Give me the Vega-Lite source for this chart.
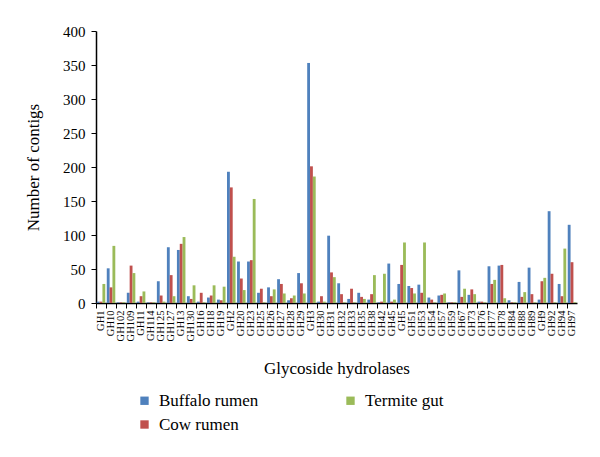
{
  "$schema": "https://vega.github.io/schema/vega-lite/v6.json",
  "autosize": {"type": "none"},
  "padding": {"left": 96, "top": 31, "right": 23, "bottom": 154},
  "width": 481,
  "height": 272,
  "background": "white",
  "config": {
    "view": {"stroke": null},
    "font": "Liberation Serif",
    "axis": {"labelFont": "Liberation Serif", "titleFont": "Liberation Serif", "labelColor": "black", "titleColor": "black", "domainColor": "black", "tickColor": "black", "titleFontWeight": "normal"},
    "legend": {"labelFont": "Liberation Serif", "labelColor": "black"}
  },
  "data": {
    "values": [
      {"g":"GH1","s":"Buffalo rumen","v":2},{"g":"GH1","s":"Cow rumen","v":2},{"g":"GH1","s":"Termite gut","v":28},
      {"g":"GH10","s":"Buffalo rumen","v":51},{"g":"GH10","s":"Cow rumen","v":23},{"g":"GH10","s":"Termite gut","v":84},
      {"g":"GH102","s":"Buffalo rumen","v":1},{"g":"GH102","s":"Cow rumen","v":1},{"g":"GH102","s":"Termite gut","v":1},
      {"g":"GH109","s":"Buffalo rumen","v":15},{"g":"GH109","s":"Cow rumen","v":55},{"g":"GH109","s":"Termite gut","v":44},
      {"g":"GH11","s":"Buffalo rumen","v":2},{"g":"GH11","s":"Cow rumen","v":10},{"g":"GH11","s":"Termite gut","v":17},
      {"g":"GH114","s":"Buffalo rumen","v":1},{"g":"GH114","s":"Cow rumen","v":1},{"g":"GH114","s":"Termite gut","v":1},
      {"g":"GH125","s":"Buffalo rumen","v":32},{"g":"GH125","s":"Cow rumen","v":11},{"g":"GH125","s":"Termite gut","v":2},
      {"g":"GH127","s":"Buffalo rumen","v":82},{"g":"GH127","s":"Cow rumen","v":41},{"g":"GH127","s":"Termite gut","v":10},
      {"g":"GH13","s":"Buffalo rumen","v":78},{"g":"GH13","s":"Cow rumen","v":87},{"g":"GH13","s":"Termite gut","v":97},
      {"g":"GH130","s":"Buffalo rumen","v":10},{"g":"GH130","s":"Cow rumen","v":6},{"g":"GH130","s":"Termite gut","v":26},
      {"g":"GH16","s":"Buffalo rumen","v":2},{"g":"GH16","s":"Cow rumen","v":15},{"g":"GH16","s":"Termite gut","v":1},
      {"g":"GH18","s":"Buffalo rumen","v":8},{"g":"GH18","s":"Cow rumen","v":11},{"g":"GH18","s":"Termite gut","v":26},
      {"g":"GH19","s":"Buffalo rumen","v":5},{"g":"GH19","s":"Cow rumen","v":4},{"g":"GH19","s":"Termite gut","v":24},
      {"g":"GH2","s":"Buffalo rumen","v":193},{"g":"GH2","s":"Cow rumen","v":170},{"g":"GH2","s":"Termite gut","v":68},
      {"g":"GH20","s":"Buffalo rumen","v":61},{"g":"GH20","s":"Cow rumen","v":36},{"g":"GH20","s":"Termite gut","v":19},
      {"g":"GH23","s":"Buffalo rumen","v":61},{"g":"GH23","s":"Cow rumen","v":63},{"g":"GH23","s":"Termite gut","v":153},
      {"g":"GH25","s":"Buffalo rumen","v":15},{"g":"GH25","s":"Cow rumen","v":21},{"g":"GH25","s":"Termite gut","v":1},
      {"g":"GH26","s":"Buffalo rumen","v":23},{"g":"GH26","s":"Cow rumen","v":10},{"g":"GH26","s":"Termite gut","v":20},
      {"g":"GH27","s":"Buffalo rumen","v":35},{"g":"GH27","s":"Cow rumen","v":28},{"g":"GH27","s":"Termite gut","v":14},
      {"g":"GH28","s":"Buffalo rumen","v":4},{"g":"GH28","s":"Cow rumen","v":7},{"g":"GH28","s":"Termite gut","v":11},
      {"g":"GH29","s":"Buffalo rumen","v":44},{"g":"GH29","s":"Cow rumen","v":29},{"g":"GH29","s":"Termite gut","v":14},
      {"g":"GH3","s":"Buffalo rumen","v":353},{"g":"GH3","s":"Cow rumen","v":201},{"g":"GH3","s":"Termite gut","v":186},
      {"g":"GH30","s":"Buffalo rumen","v":2},{"g":"GH30","s":"Cow rumen","v":10},{"g":"GH30","s":"Termite gut","v":2},
      {"g":"GH31","s":"Buffalo rumen","v":99},{"g":"GH31","s":"Cow rumen","v":45},{"g":"GH31","s":"Termite gut","v":38},
      {"g":"GH32","s":"Buffalo rumen","v":29},{"g":"GH32","s":"Cow rumen","v":13},{"g":"GH32","s":"Termite gut","v":1},
      {"g":"GH33","s":"Buffalo rumen","v":6},{"g":"GH33","s":"Cow rumen","v":21},{"g":"GH33","s":"Termite gut","v":1},
      {"g":"GH35","s":"Buffalo rumen","v":15},{"g":"GH35","s":"Cow rumen","v":9},{"g":"GH35","s":"Termite gut","v":6},
      {"g":"GH38","s":"Buffalo rumen","v":5},{"g":"GH38","s":"Cow rumen","v":13},{"g":"GH38","s":"Termite gut","v":41},
      {"g":"GH42","s":"Buffalo rumen","v":1},{"g":"GH42","s":"Cow rumen","v":2},{"g":"GH42","s":"Termite gut","v":43},
      {"g":"GH45","s":"Buffalo rumen","v":58},{"g":"GH45","s":"Cow rumen","v":2},{"g":"GH45","s":"Termite gut","v":5},
      {"g":"GH5","s":"Buffalo rumen","v":28},{"g":"GH5","s":"Cow rumen","v":56},{"g":"GH5","s":"Termite gut","v":89},
      {"g":"GH51","s":"Buffalo rumen","v":25},{"g":"GH51","s":"Cow rumen","v":22},{"g":"GH51","s":"Termite gut","v":14},
      {"g":"GH53","s":"Buffalo rumen","v":27},{"g":"GH53","s":"Cow rumen","v":15},{"g":"GH53","s":"Termite gut","v":89},
      {"g":"GH54","s":"Buffalo rumen","v":8},{"g":"GH54","s":"Cow rumen","v":5},{"g":"GH54","s":"Termite gut","v":1},
      {"g":"GH57","s":"Buffalo rumen","v":11},{"g":"GH57","s":"Cow rumen","v":12},{"g":"GH57","s":"Termite gut","v":14},
      {"g":"GH59","s":"Buffalo rumen","v":1},{"g":"GH59","s":"Cow rumen","v":1},{"g":"GH59","s":"Termite gut","v":1},
      {"g":"GH67","s":"Buffalo rumen","v":48},{"g":"GH67","s":"Cow rumen","v":9},{"g":"GH67","s":"Termite gut","v":21},
      {"g":"GH73","s":"Buffalo rumen","v":12},{"g":"GH73","s":"Cow rumen","v":20},{"g":"GH73","s":"Termite gut","v":13},
      {"g":"GH76","s":"Buffalo rumen","v":2},{"g":"GH76","s":"Cow rumen","v":2},{"g":"GH76","s":"Termite gut","v":1},
      {"g":"GH77","s":"Buffalo rumen","v":54},{"g":"GH77","s":"Cow rumen","v":28},{"g":"GH77","s":"Termite gut","v":34},
      {"g":"GH78","s":"Buffalo rumen","v":55},{"g":"GH78","s":"Cow rumen","v":56},{"g":"GH78","s":"Termite gut","v":7},
      {"g":"GH84","s":"Buffalo rumen","v":4},{"g":"GH84","s":"Cow rumen","v":1},{"g":"GH84","s":"Termite gut","v":1},
      {"g":"GH88","s":"Buffalo rumen","v":31},{"g":"GH88","s":"Cow rumen","v":9},{"g":"GH88","s":"Termite gut","v":16},
      {"g":"GH89","s":"Buffalo rumen","v":52},{"g":"GH89","s":"Cow rumen","v":13},{"g":"GH89","s":"Termite gut","v":1},
      {"g":"GH9","s":"Buffalo rumen","v":5},{"g":"GH9","s":"Cow rumen","v":32},{"g":"GH9","s":"Termite gut","v":37},
      {"g":"GH92","s":"Buffalo rumen","v":135},{"g":"GH92","s":"Cow rumen","v":43},{"g":"GH92","s":"Termite gut","v":1},
      {"g":"GH94","s":"Buffalo rumen","v":28},{"g":"GH94","s":"Cow rumen","v":10},{"g":"GH94","s":"Termite gut","v":80},
      {"g":"GH97","s":"Buffalo rumen","v":115},{"g":"GH97","s":"Cow rumen","v":60},{"g":"GH97","s":"Termite gut","v":1}
    ]
  },
  "layer": [
    {
      "mark": {"type": "bar", "opacity": 0},
      "encoding": {
        "x": {"field": "g", "type": "nominal", "sort": null, "scale": {"paddingInner": 0.15, "paddingOuter": 0.075},
          "axis": {"orient": "bottom", "labels": false, "title": null, "ticks": true, "tickSize": 5, "bandPosition": 0, "domain": true, "domainWidth": 1.5}},
        "y": {"field": "v", "type": "quantitative", "scale": {"domain": [0, 400]},
          "axis": {"title": "Number of contigs", "titleFontSize": 17, "titlePadding": 20, "labelFontSize": 15, "values": [0, 50, 100, 150, 200, 250, 300, 350, 400], "grid": false, "tickSize": 5, "domainWidth": 1.5, "labelPadding": 6}}
      }
    },
    {
      "mark": {"type": "bar"},
      "encoding": {
        "x": {"field": "g", "type": "nominal", "sort": null, "scale": {"paddingInner": 0.15, "paddingOuter": 0.075},
          "axis": {"orient": "bottom", "title": "Glycoside hydrolases", "titleFontSize": 17, "titlePadding": 20, "labelAngle": -90, "labelFontSize": 10.5, "labelPadding": 7, "ticks": false, "domain": false}},
        "xOffset": {"field": "s", "type": "nominal", "scale": {"domain": ["Buffalo rumen", "Cow rumen", "Termite gut"], "paddingInner": 0}},
        "y": {"field": "v", "type": "quantitative", "scale": {"domain": [0, 400]},
          "axis": {"title": "Number of contigs", "titleFontSize": 17, "titlePadding": 20, "labelFontSize": 15, "values": [0, 50, 100, 150, 200, 250, 300, 350, 400], "grid": false, "tickSize": 5, "domainWidth": 1.5, "labelPadding": 6}},
        "color": {"field": "s", "type": "nominal",
          "scale": {"domain": ["Buffalo rumen", "Cow rumen", "Termite gut"], "range": ["#4F81BD", "#C0504D", "#9BBB59"]},
          "legend": {"title": null, "orient": "none", "legendX": 40, "legendY": 361, "columns": 2, "columnPadding": 83, "rowPadding": 6, "symbolType": "square", "symbolSize": 70, "labelFontSize": 17, "labelOffset": 6}}
      }
    }
  ],
  "resolve": {"axis": {"x": "independent"}}
}
